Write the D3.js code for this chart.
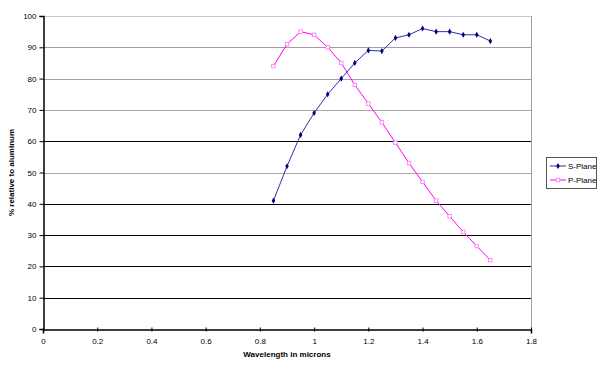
<!DOCTYPE html>
<html>
<head>
<meta charset="utf-8">
<script src="https://cdn.jsdelivr.net/npm/d3@7"></script>
<style>
  body { margin: 0; background: #fff; }
  text { font-family: Arial, "Liberation Sans", sans-serif; }
</style>
</head>
<body>
<script>
var chartWidth = 600,
    chartHeight = 372;

// wavelength (microns)
var wavelengths = [0.85, 0.9, 0.95, 1.0, 1.05, 1.1, 1.15, 1.2, 1.25, 1.3, 1.35, 1.4, 1.45, 1.5, 1.55, 1.6, 1.65];
var sPlane = [41, 52, 62, 69, 75, 80, 85, 89, 88.8, 93, 94, 96, 95, 95, 94, 94, 92];
var pPlane = [84, 91, 95, 94, 90, 85, 78, 72, 66, 59.5, 53, 47, 41, 36, 31, 26.5, 22];
var xTicks = [0, 0.2, 0.4, 0.6, 0.8, 1, 1.2, 1.4, 1.6, 1.8];
var yTicks = [0, 10, 20, 30, 40, 50, 60, 70, 80, 90, 100];
var seriesNames = ['S-Plane', 'P-Plane'];

var plot = { left: 43, right: 531, top: 16, bottom: 329 };

var x = d3.scaleLinear().domain([0, 1.8]).range([plot.left, plot.right]);
var y = d3.scaleLinear().domain([0, 100]).range([plot.bottom, plot.top]);

var svg = d3.select('body').append('svg')
    .attr('xmlns', 'http://www.w3.org/2000/svg')
    .attr('width', chartWidth)
    .attr('height', chartHeight);

// grid lines (Excel style: some come out grey, some black)
var gridColour = { 100: '#c8c8c8', 90: '#a898a8', 80: '#a8a0a8', 70: '#a8a8a8', 50: '#a8a8a8' };
svg.append('g').selectAll('line')
  .data(yTicks.filter(function(d) { return d > 0; }))
  .enter().append('line')
    .attr('x1', plot.left).attr('x2', plot.right)
    .attr('y1', function(d) { return Math.round(y(d)) + 0.5; })
    .attr('y2', function(d) { return Math.round(y(d)) + 0.5; })
    .attr('stroke', function(d) { return gridColour[d] || '#000'; })
    .attr('stroke-width', 1);

// right plot border
svg.append('line')
    .attr('x1', plot.right + 0.5).attr('x2', plot.right + 0.5)
    .attr('y1', plot.top).attr('y2', plot.bottom)
    .attr('stroke', '#a0a0a0');

// axes
var yAxis = d3.axisLeft(y).tickValues(yTicks).tickSize(4).tickPadding(3).tickFormat(d3.format('d'));
var xAxis = d3.axisBottom(x).tickValues(xTicks).tickSize(4).tickPadding(5).tickFormat(function(d) { return String(d); });

var gy = svg.append('g').attr('transform', 'translate(' + (plot.left + 0.5) + ',0)').call(yAxis);
var gx = svg.append('g').attr('transform', 'translate(0,' + (plot.bottom + 0.5) + ')').call(xAxis);
[gx, gy].forEach(function(g) {
  g.select('.domain').attr('stroke', '#000').attr('stroke-width', 1.5);
  g.selectAll('.tick line').attr('stroke', '#000');
  g.selectAll('text').attr('font-size', 8).attr('fill', '#000')
    .attr('font-family', 'Arial, "Liberation Sans", sans-serif');
});
gx.selectAll('.tick line').attr('y1', -2).attr('y2', 2);

// axis titles
svg.append('text')
    .attr('x', (plot.left + plot.right) / 2).attr('y', 357)
    .attr('text-anchor', 'middle').attr('font-size', 8).attr('font-weight', 'bold')
    .text('Wavelength in microns');
svg.append('text')
    .attr('transform', 'translate(14,' + ((plot.top + plot.bottom) / 2) + ') rotate(-90)')
    .attr('text-anchor', 'middle').attr('font-size', 8).attr('font-weight', 'bold')
    .text('% relative to aluminum');

var line = d3.line()
    .x(function(d) { return x(d[0]); })
    .y(function(d) { return y(d[1]); });

var sData = wavelengths.map(function(w, i) { return [w, sPlane[i]]; });
var pData = wavelengths.map(function(w, i) { return [w, pPlane[i]]; });

// P-Plane
svg.append('path').datum(pData)
    .attr('d', line).attr('fill', 'none').attr('stroke', '#ff00ff').attr('stroke-width', 1);
svg.append('g').selectAll('rect').data(pData).enter().append('rect')
    .attr('x', function(d) { return x(d[0]) - 1.75; })
    .attr('y', function(d) { return y(d[1]) - 1.75; })
    .attr('width', 3.5).attr('height', 3.5)
    .attr('fill', '#fff').attr('stroke', '#ff70ff').attr('stroke-width', 0.8);

// S-Plane
svg.append('path').datum(sData)
    .attr('d', line).attr('fill', 'none').attr('stroke', '#3030a8').attr('stroke-width', 1);
var diamond = d3.symbol().type(d3.symbolDiamond).size(11);
svg.append('g').selectAll('path').data(sData).enter().append('path')
    .attr('d', diamond)
    .attr('transform', function(d) { return 'translate(' + x(d[0]) + ',' + y(d[1]) + ')'; })
    .attr('fill', '#000080');

// legend
var legend = svg.append('g').attr('transform', 'translate(546,157)');
legend.append('rect')
    .attr('x', 0.5).attr('y', 0.5).attr('width', 50).attr('height', 31)
    .attr('fill', '#fff').attr('stroke', '#555');
var colours = ['#000080', '#ff00ff'];
seriesNames.forEach(function(name, i) {
  var ly = 9 + i * 14;
  legend.append('line')
      .attr('x1', 4).attr('x2', 20).attr('y1', ly).attr('y2', ly)
      .attr('stroke', i === 0 ? '#3030a8' : '#ff00ff');
  if (i === 0) {
    legend.append('path').attr('d', diamond)
        .attr('transform', 'translate(12,' + ly + ')').attr('fill', colours[i]);
  } else {
    legend.append('rect').attr('x', 10.25).attr('y', ly - 1.75).attr('width', 3.5).attr('height', 3.5)
        .attr('fill', '#fff').attr('stroke', '#ff70ff').attr('stroke-width', 0.8);
  }
  legend.append('text').attr('x', 22).attr('y', ly + 3)
      .attr('font-size', 8).attr('fill', '#000').text(name);
});
</script>
</body>
</html>
